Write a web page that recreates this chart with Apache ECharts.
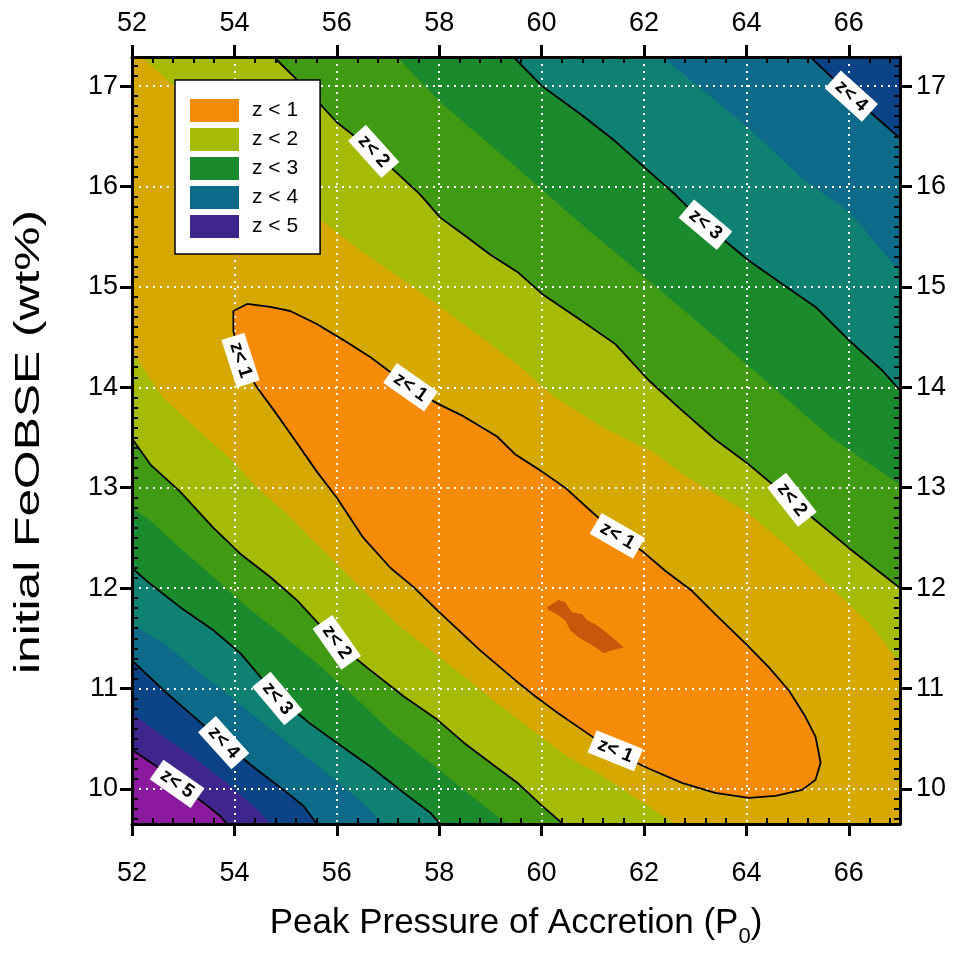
<!DOCTYPE html>
<html>
<head>
<meta charset="utf-8">
<script src="https://cdn.jsdelivr.net/npm/echarts/dist/echarts.min.js"></script>
<style>html,body{margin:0;padding:0;background:#fff;}#chart{width:964px;height:953px;}</style>
</head>
<body>
<div id="chart"></div>
<script>
// ---------- data ----------
const xTicks = [52, 54, 56, 58, 60, 62, 64, 66];
const yTicks = [10, 11, 12, 13, 14, 15, 16, 17];
const xRange = [52, 67];
const yRange = [9.65, 17.29];
const legendNames = ['z < 1', 'z < 2', 'z < 3', 'z < 4', 'z < 5'];
const xTitle = 'Peak Pressure of Accretion (P{sub|0})';
const yTitle = 'initial FeOBSE (wt%)';

// z < 0.5 patch
const patch05 = [[60.11,11.81],[60.33,11.88],[60.46,11.86],[60.59,11.76],[60.79,11.74],[60.89,11.68],[61.05,11.64],[61.21,11.58],[61.38,11.51],[61.6,11.41],[61.38,11.38],[61.21,11.35],[61.05,11.41],[60.89,11.46],[60.72,11.51],[60.56,11.58],[60.46,11.68],[60.3,11.74],[60.14,11.78]];
// z < 1 closed contour
const ellipse1 = [[53.98,14.56],[53.98,14.76],[54.25,14.83],[54.7,14.8],[55.09,14.76],[55.61,14.63],[56.13,14.47],[56.66,14.3],[57.44,14.0],[57.96,13.84],[58.48,13.71],[59.13,13.51],[59.49,13.33],[60.01,13.16],[60.46,13.0],[61.0,12.75],[61.5,12.53],[61.96,12.37],[62.42,12.17],[62.94,11.97],[63.39,11.74],[63.98,11.45],[64.44,11.21],[64.83,10.98],[65.15,10.72],[65.35,10.52],[65.45,10.26],[65.35,10.09],[65.09,9.99],[64.57,9.93],[64.05,9.91],[63.39,9.96],[62.74,10.06],[62.1,10.2],[61.44,10.36],[60.79,10.59],[60.33,10.75],[59.88,10.92],[59.49,11.08],[58.8,11.38],[57.96,11.78],[57.5,12.01],[57.05,12.2],[56.52,12.5],[56.0,12.9],[55.61,13.16],[55.16,13.49],[54.8,13.75],[54.44,14.0],[54.12,14.27]];
// lower-left boundaries (left edge -> bottom edge)
const ll15 = [[52,14.35],[52.6,13.9],[53.47,13.49],[53.92,13.29],[54.44,13.0],[54.96,12.77],[55.48,12.5],[56.0,12.24],[56.52,11.97],[57.18,11.64],[57.83,11.38],[58.48,11.12],[59.13,10.85],[59.62,10.66],[60.5,10.32],[61.15,10.14],[61.93,9.88],[62.6,9.65]];
const ll2 = [[52,13.49],[52.36,13.23],[52.94,12.96],[53.59,12.6],[54.12,12.34],[54.7,12.11],[55.22,11.88],[56.0,11.45],[56.66,11.18],[57.31,10.92],[57.96,10.69],[58.48,10.46],[59.0,10.26],[59.55,10.05],[60.01,9.83],[60.42,9.65]];
const ll25 = [[52,12.8],[52.36,12.67],[52.94,12.4],[53.59,12.11],[54.18,11.84],[54.9,11.55],[55.61,11.25],[56.4,10.89],[57.11,10.55],[57.83,10.26],[58.48,9.99],[59.13,9.73],[59.35,9.65]];
const ll3 = [[52,12.2],[52.36,12.04],[52.94,11.81],[53.59,11.58],[54.12,11.35],[54.83,10.92],[55.48,10.65],[56.0,10.46],[56.66,10.22],[57.31,9.96],[57.83,9.76],[58.02,9.65]];
const ll35 = [[52,11.64],[52.62,11.45],[53.27,11.18],[53.92,10.92],[54.57,10.65],[55.22,10.39],[55.87,10.13],[56.52,9.86],[56.91,9.65]];
const ll4 = [[52,11.28],[52.62,10.98],[53.14,10.75],[53.79,10.46],[54.44,10.19],[54.96,9.99],[55.35,9.83],[55.61,9.65]];
const ll45 = [[52,10.75],[52.62,10.52],[53.27,10.29],[53.92,10.03],[54.44,9.8],[54.7,9.65]];
const ll5 = [[52,10.39],[52.49,10.22],[52.88,10.06],[53.4,9.86],[53.72,9.73],[53.86,9.65]];
// upper-right boundaries (top edge -> right edge)
const ur15 = [[52.2,17.29],[53.9,16.5],[55.68,15.67],[56.5,15.35],[57.5,15.0],[58.5,14.62],[59.55,14.22],[60.2,13.92],[61.2,13.6],[62.2,13.35],[62.8,13.12],[64.0,12.76],[64.8,12.42],[65.7,11.98],[66.4,11.65],[67,11.25]];
const ur2 = [[54.77,17.29],[55.35,17.0],[56.0,16.64],[56.72,16.35],[57.63,15.92],[58.02,15.69],[58.48,15.52],[59.0,15.32],[59.55,15.14],[60.01,14.93],[60.79,14.66],[61.44,14.43],[62.09,14.07],[62.74,13.77],[63.39,13.48],[64.05,13.23],[64.89,12.87],[66.0,12.4],[67,12.0]];
const ur25 = [[57.18,17.29],[58.0,16.85],[58.8,16.5],[59.49,16.2],[60.79,15.62],[61.96,15.12],[63.39,14.5],[64.7,13.92],[65.68,13.49],[67,13.03]];
const ur3 = [[59.45,17.29],[60.01,17.0],[60.79,16.71],[61.44,16.45],[62.03,16.18],[62.61,15.92],[63.2,15.62],[64.05,15.26],[64.7,15.03],[65.35,14.8],[66.0,14.47],[66.65,14.17],[67,13.97]];
const ur35 = [[62.35,17.29],[63.13,16.97],[64.05,16.58],[65.09,16.08],[66.0,15.75],[67,15.15]];
const ur4 = [[65.25,17.29],[65.6,17.12],[66.1,16.88],[66.6,16.66],[67,16.48]];
// contour labels: [x, y, text, angle]
const contourLabels = [
  [56.72,16.35,'z< 2',-48],[63.2,15.62,'z< 3',-40],[66.05,16.9,'z< 4',-42],
  [54.12,14.27,'z< 1',-72],[57.44,14.0,'z< 1',-35],[61.48,12.52,'z< 1',-30],[61.44,10.38,'z< 1',-22],
  [64.89,12.88,'z< 2',-52],[56.0,11.46,'z< 2',-55],[54.84,10.9,'z< 3',-50],[53.79,10.46,'z< 4',-48],[52.88,10.05,'z< 5',-35]
];

// ---------- styles ----------
const FONT = 'Liberation Sans';
const colors = {
  top: '#8c1a9e', c5: '#3e268c', c45: '#0b4386', c4: '#0d6a89', c35: '#0e8172',
  c3: '#1b8a2c', c25: '#419a13', c2: '#a5bb06', c15: '#d6a902', c1: '#f68b08', c05: '#c9560a'
};

const X0 = xRange[0], X1 = xRange[1], Y0 = yRange[0], Y1 = yRange[1];
const rev = a => a.slice().reverse();
function band(ll, ur) { return ll.concat([[X1, Y0]], rev(ur), [[X0, Y1]]); }
function open(ll) { return ll.concat([[X1, Y0], [X1, Y1], [X0, Y1]]); }

const regions = [
  ['bg', [[X0,Y0],[X1,Y0],[X1,Y1],[X0,Y1]], colors.top],
  ['z < 5', open(ll5), colors.c5],
  ['z < 4.5', open(ll45), colors.c45],
  ['z < 4', band(ll4, ur4), colors.c4],
  ['z < 3.5', band(ll35, ur35), colors.c35],
  ['z < 3', band(ll3, ur3), colors.c3],
  ['z < 2.5', band(ll25, ur25), colors.c25],
  ['z < 2', band(ll2, ur2), colors.c2],
  ['z < 1.5', band(ll15, ur15), colors.c15],
  ['z < 1', ellipse1, colors.c1],
  ['z < 0.5', patch05, colors.c05]
];

const series = regions.map(([name, pts, color]) => ({
  type: 'custom', name, clip: true, silent: true, z: 1,
  xAxisIndex: 0, yAxisIndex: 0,
  itemStyle: { color },
  data: [pts[0]],
  renderItem: (params, api) => ({
    type: 'polygon',
    shape: { points: pts.map(p => api.coord(p)) },
    style: { fill: color }
  })
}));

const lines = [ellipse1.concat([ellipse1[0]]), ll2, ur2, ll3, ur3, ll4, ur4, ll5];
lines.forEach((pts, i) => series.push({
  type: 'line', name: 'line' + i, data: pts, symbol: 'none', silent: true, z: 8,
  xAxisIndex: 0, yAxisIndex: 0,
  lineStyle: { color: '#000', width: 1.8 }, animation: false
}));

series.push({
  type: 'scatter', name: 'labels', silent: true, z: 9, xAxisIndex: 0, yAxisIndex: 0,
  symbol: 'rect', symbolSize: [50, 24],
  itemStyle: { color: '#fff', opacity: 1 },
  data: contourLabels.map(l => ({ value: [l[0], l[1]], name: l[2], symbolRotate: l[3], label: { rotate: l[3] } })),
  label: { show: true, position: 'inside', formatter: p => p.name, color: '#000', fontSize: 19, fontWeight: 'bold', fontFamily: FONT }
});

const xMinor = [];
for (let i = 1; i <= 37; i++) if (i % 5 !== 0) xMinor.push(+(52 + 0.4 * i).toFixed(2));
const yMinor = [];
for (let i = 97; i <= 172; i++) if (i % 10 !== 0) yMinor.push(i / 10);

const lbl = { fontSize: 27, color: '#000', fontFamily: FONT };
function mainX(pos, withSplit, extra) {
  return Object.assign({
    type: 'value', position: pos, min: X0, max: X1, z: 5,
    axisLine: { show: true, onZero: false, lineStyle: { color: '#000', width: 3 } },
    axisTick: { show: true, inside: false, length: 12, customValues: xTicks, lineStyle: { color: '#000', width: 3 } },
    axisLabel: Object.assign({ customValues: xTicks, margin: pos === 'bottom' ? 36 : 20 }, lbl),
    splitLine: { show: withSplit, lineStyle: { color: '#fff', width: 2, type: [2, 5] } }
  }, extra || {});
}
function minorX(pos) {
  return {
    type: 'value', position: pos, min: X0, max: X1, z: 5,
    axisLine: { show: false }, axisLabel: { show: false }, splitLine: { show: false },
    axisTick: { show: true, inside: true, length: 6, customValues: xMinor, lineStyle: { color: '#000', width: 2 } }
  };
}
function mainY(pos, withSplit, extra) {
  return Object.assign({
    type: 'value', position: pos, min: Y0, max: Y1, z: 5,
    axisLine: { show: true, onZero: false, lineStyle: { color: '#000', width: 3 } },
    axisTick: { show: true, inside: false, length: 12, customValues: yTicks, lineStyle: { color: '#000', width: 3 } },
    axisLabel: Object.assign({ customValues: yTicks, margin: pos === 'left' ? 14 : 16 }, lbl),
    splitLine: { show: withSplit, lineStyle: { color: '#fff', width: 2, type: [2, 5] } }
  }, extra || {});
}
function minorY(pos) {
  return {
    type: 'value', position: pos, min: Y0, max: Y1, z: 5,
    axisLine: { show: false }, axisLabel: { show: false }, splitLine: { show: false },
    axisTick: { show: true, inside: true, length: 6, customValues: yMinor, lineStyle: { color: '#000', width: 2 } }
  };
}

const option = {
  animation: false,
  backgroundColor: '#fff',
  grid: { left: 132, right: 64, top: 57, bottom: 125 },
  xAxis: [
    mainX('bottom', true, {
      name: xTitle, nameLocation: 'middle', nameGap: 74,
      nameTextStyle: { fontSize: 35, color: '#000', fontFamily: FONT, rich: { sub: { fontSize: 22, padding: [28, 0, 0, 0], fontFamily: FONT, color: '#000' } } }
    }),
    mainX('top', false),
    minorX('bottom'),
    minorX('top')
  ],
  yAxis: [
    mainY('left', true),
    mainY('right', false),
    minorY('left'),
    minorY('right')
  ],
  graphic: [{
    type: 'text', x: 29, y: 442, rotation: Math.PI / 2, scaleX: 1.42, z: 20,
    style: { text: yTitle, font: '35px "Liberation Sans"', fill: '#000', align: 'center', verticalAlign: 'middle', textAlign: 'center', textVerticalAlign: 'middle' }
  }],
  legend: {
    data: legendNames.map(n => ({ name: n, icon: 'rect' })),
    orient: 'vertical', left: 175, top: 80, z: 20, selectedMode: false,
    backgroundColor: '#fff', borderColor: '#000', borderWidth: 1.5,
    padding: [19, 22, 16, 15], itemWidth: 49, itemHeight: 23, itemGap: 6,
    textStyle: { fontSize: 21, color: '#000', fontFamily: FONT, padding: [0, 0, 0, 8] }
  },
  series
};

const chart = echarts.init(document.getElementById('chart'), null, { renderer: 'canvas' });
chart.setOption(option);
</script>
</body>
</html>
